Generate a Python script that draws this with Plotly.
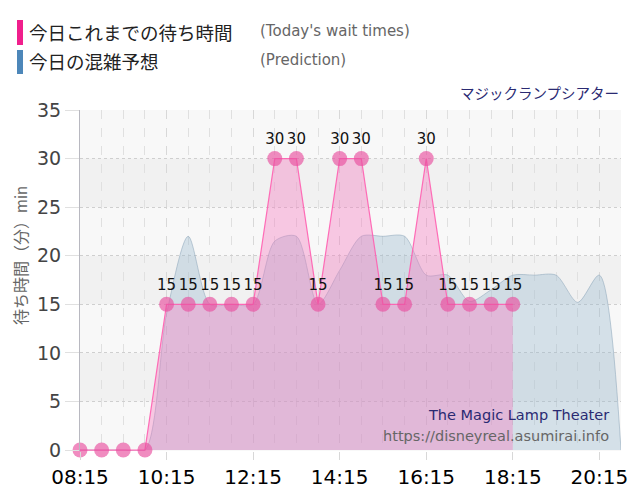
import plotly.graph_objects as go

DAY = "2024-01-01 "
actual_times = ["08:15", "08:45", "09:15", "09:45", "10:15", "10:45", "11:15", "11:45",
                "12:15", "12:45", "13:15", "13:45", "14:15", "14:45", "15:15", "15:45",
                "16:15", "16:45", "17:15", "17:45", "18:15"]
actual_waits = [0, 0, 0, 0, 15, 15, 15, 15, 15, 30, 30, 15, 30, 30, 15, 15, 30, 15, 15, 15, 15]

pred_times = ["08:15", "08:45", "09:15", "09:45", "10:15", "10:45", "11:15", "11:45",
              "12:15", "12:45", "13:15", "13:45", "14:15", "14:45", "15:15", "15:45",
              "16:15", "16:45", "17:15", "17:45", "18:15", "18:45", "19:15", "19:45",
              "20:15", "20:45"]
pred_waits = [0, 0, 0, 0, 14, 22, 15, 15, 15, 21.5, 22, 15, 18.5, 22, 22, 22,
              18, 18, 15.3, 16.5, 18, 18, 18, 15.2, 18, 0]

y_ticks = [0, 5, 10, 15, 20, 25, 30, 35]
x_start, x_end = "08:15", "20:45"

ax = [DAY + t for t in actual_times]
px_ = [DAY + t for t in pred_times]

LAT = "DejaVu Sans, Noto Sans CJK JP"
JP = "Noto Sans CJK JP"

fig = go.Figure()

fig.add_trace(go.Scatter(
    x=px_, y=pred_waits, mode="lines", line=dict(color="rgba(140,165,185,0.55)", width=1, shape="spline", smoothing=0.8),
    fill="tozeroy", fillcolor="rgba(150,184,204,0.36)", hoverinfo="skip", showlegend=False))

fig.add_trace(go.Scatter(
    x=ax, y=actual_waits, mode="lines", line=dict(color="rgba(255,95,176,0.9)", width=1.2),
    fill="tozeroy", fillcolor="rgba(245,125,192,0.40)",
    hoverinfo="skip", showlegend=False))

fig.add_trace(go.Scatter(
    x=ax, y=actual_waits, mode="markers+text",
    marker=dict(size=15, color="rgba(232,80,160,0.66)"),
    text=[str(v) if v > 0 else "" for v in actual_waits], textposition="top center",
    textfont=dict(family=LAT, size=15, color="#111"), cliponaxis=False,
    hoverinfo="skip", showlegend=False))

shapes = []
for lo in (5, 15, 25):
    shapes.append(dict(type="rect", xref="x domain", x0=0, x1=1, yref="y", y0=lo, y1=lo + 5,
                       fillcolor="#f1f1f1", line_width=0, layer="below"))

def xp(p):
    return (p - 80) / 541.0

def yp(p):
    return (451 - p) / 341.0

shapes.append(dict(type="rect", xref="paper", yref="paper", x0=xp(17), x1=xp(23), y0=yp(45), y1=yp(20),
                   fillcolor="#f01f8c", line_width=0))
shapes.append(dict(type="rect", xref="paper", yref="paper", x0=xp(17), x1=xp(23), y0=yp(74), y1=yp(50),
                   fillcolor="#4d87b9", line_width=0))

ann = [
    dict(text="今日これまでの待ち時間", x=xp(27), y=yp(32), xanchor="left", yanchor="middle",
         font=dict(family=JP, size=18.5, color="#222")),
    dict(text="(Today's wait times)", x=xp(258), y=yp(31), xanchor="left", yanchor="middle",
         font=dict(family=LAT, size=15, color="#666")),
    dict(text="今日の混雑予想", x=xp(27), y=yp(61), xanchor="left", yanchor="middle",
         font=dict(family=JP, size=18.5, color="#222")),
    dict(text="(Prediction)", x=xp(258), y=yp(60), xanchor="left", yanchor="middle",
         font=dict(family=LAT, size=15, color="#666")),
    dict(text="マジックランプシアター", x=xp(621), y=yp(92), xanchor="right", yanchor="middle",
         font=dict(family=JP, size=14.5, color="#2a2a72")),
    dict(text="待ち時間（分）<span style='font-size:15px'>min</span>", x=xp(20), y=yp(256), textangle=-90,
         xanchor="center", yanchor="middle", font=dict(family=JP, size=16, color="#666")),
    dict(text="The Magic Lamp Theater", x=xp(611), y=yp(415), xanchor="right", yanchor="middle",
         font=dict(family=LAT, size=14.5, color="#2a2a72")),
    dict(text="https://disneyreal.asumirai.info", x=xp(611), y=yp(436), xanchor="right", yanchor="middle",
         font=dict(family=LAT, size=14.5, color="#666")),
]
for a in ann:
    a.update(xref="paper", yref="paper", showarrow=False)

fig.update_layout(
    width=640, height=500,
    margin=dict(l=72, r=27, t=102, b=57),
    paper_bgcolor="white", plot_bgcolor="#f8f8f8",
    shapes=shapes, annotations=ann,
    xaxis=dict(type="date", range=[DAY + x_start, DAY + x_end], tick0=DAY + x_start, dtick=7200000,
               tickformat="%H:%M", tickfont=dict(family=LAT, size=20, color="#000"),
               showgrid=True, gridcolor="#d8d8d8", griddash="dash", gridwidth=1,
               ticks="outside", ticklen=8, tickcolor="#d8d8d8",
               minor=dict(dtick=1800000, tick0=DAY + x_start, showgrid=True, gridcolor="#e0e0e0", griddash="dash"),
               showline=False, zeroline=False, fixedrange=True),
    yaxis=dict(range=[-0.1, 35], tickvals=y_ticks, tickfont=dict(family=LAT, size=19, color="#444"),
               showgrid=True, gridcolor="#cfcfcf", griddash="dot", gridwidth=1,
               ticks="outside", ticklen=14, tickcolor="#e0e0e0",
               showline=True, linecolor="#b8b8c0", linewidth=1, zeroline=False),
)

fig.write_html("out.html")
